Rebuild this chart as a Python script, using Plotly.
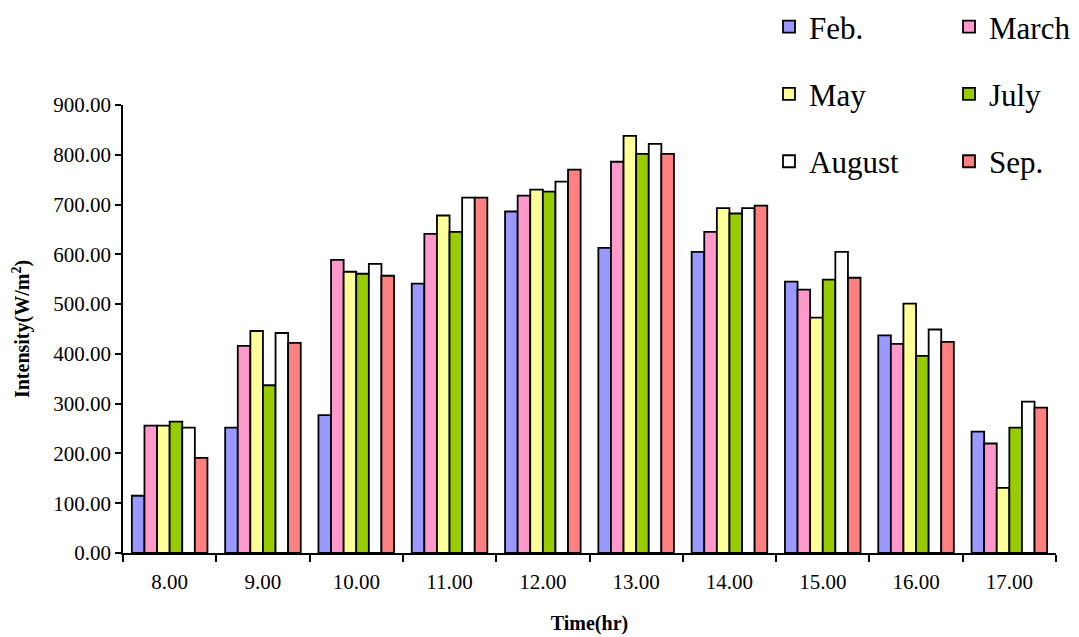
import plotly.graph_objects as go

times = ["8.00", "9.00", "10.00", "11.00", "12.00", "13.00", "14.00", "15.00", "16.00", "17.00"]

feb = [115, 252, 277, 541, 686, 613, 605, 545, 437, 244]
march = [256, 416, 589, 641, 718, 786, 645, 529, 420, 220]
may = [256, 446, 565, 678, 730, 838, 693, 473, 501, 131]
july = [264, 337, 561, 645, 726, 802, 682, 549, 396, 252]
august = [252, 442, 581, 714, 746, 822, 693, 605, 449, 304]
sep = [191, 422, 557, 714, 770, 802, 698, 553, 424, 292]

series = [
    ("Feb.", feb, "#9999FF", "legend"),
    ("March", march, "#FF99CC", "legend2"),
    ("May", may, "#FFFF99", "legend"),
    ("July", july, "#99CC00", "legend2"),
    ("August", august, "#FFFFFF", "legend"),
    ("Sep.", sep, "#FF8080", "legend2"),
]

FONT = "Liberation Serif, Times New Roman, serif"

fig = go.Figure()
for name, vals, color, leg in series:
    fig.add_trace(go.Bar(
        name=name, x=times, y=vals,
        marker=dict(color=color, line=dict(color="black", width=1.8)),
        legend=leg, legendgroup=name,
    ))

legend_common = dict(
    font=dict(family=FONT, size=31, color="black"),
    orientation="v", xref="container", yref="container",
    xanchor="left", yanchor="top", tracegroupgap=24,
    bgcolor="rgba(0,0,0,0)", itemclick=False,
)

fig.update_layout(
    width=1079, height=637,
    margin=dict(l=123, r=23, t=105, b=84, autoexpand=False),
    paper_bgcolor="white", plot_bgcolor="white",
    barmode="group", bargap=0.19, bargroupgap=0,
    font=dict(family=FONT, color="black"),
    legend=dict(x=769 / 1079, y=1 + 2 / 637, **legend_common),
    legend2=dict(x=949 / 1079, y=1 + 2 / 637, **legend_common),
    xaxis=dict(
        type="category", showline=True, linecolor="black", linewidth=1.5,
        ticks="outside", tickson="boundaries", ticklen=7, tickcolor="black", tickwidth=1.5,
        tickfont=dict(family=FONT, size=21, color="black"), ticklabelstandoff=9,
        showgrid=False, zeroline=False,
        title=dict(text="<b>Time(hr)</b>", font=dict(family=FONT, size=20, color="black"), standoff=23),
    ),
    yaxis=dict(
        range=[0, 900], dtick=100, tickformat=".2f",
        showline=True, linecolor="black", linewidth=1.5,
        ticks="outside", ticklen=6, tickcolor="black", tickwidth=1.5,
        tickfont=dict(family=FONT, size=21, color="black"),
        showgrid=False, zeroline=False,
        title=dict(text="<b>Intensity(W/m<sup>2</sup>)</b>", font=dict(family=FONT, size=20, color="black"), standoff=18),
    ),
)

fig.write_html("out.html")
